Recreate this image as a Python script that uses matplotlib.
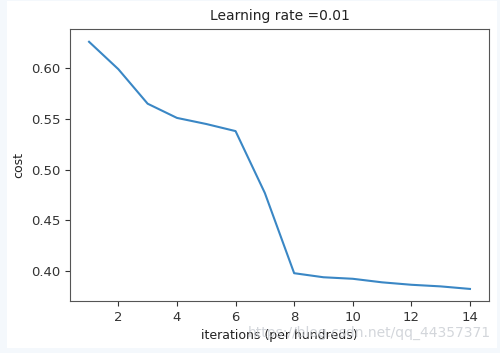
import matplotlib.pyplot as plt
from matplotlib.patches import Rectangle

iterations = [1, 2, 3, 4, 5, 6, 7, 8, 9, 10, 11, 12, 13, 14]
costs = [0.626, 0.599, 0.565, 0.551, 0.545, 0.538, 0.477, 0.398, 0.394,
         0.3925, 0.389, 0.3866, 0.385, 0.3825]
learning_rate = 0.01

fig = plt.figure(figsize=(5, 3.53), dpi=100, facecolor="#f4f8fc")
# white page area inside the light blue border
fig.patches.append(Rectangle((7 / 500, 5 / 353), 490 / 500, 347 / 353,
                             transform=fig.transFigure, facecolor="white",
                             edgecolor="none", zorder=-10))

ax = fig.add_axes([0.14, 0.147, 0.838, 0.772])
ax.plot(iterations, costs, color="#3a87c5", linewidth=1.5)

ax.set_yticks([0.40, 0.45, 0.50, 0.55, 0.60])
ax.set_xticks([2, 4, 6, 8, 10, 12, 14])
ax.set_ylim(0.3705, 0.639)
ax.set_xlim(0.35, 14.65)
ax.tick_params(labelsize=9.5, colors="#333333", length=3.5)
for s in ax.spines.values():
    s.set_color("#555555")

ax.set_ylabel("cost", fontsize=9, color="#222222")
ax.set_xlabel("iterations (per hundreds)", fontsize=9, color="#222222")
ax.set_title("Learning rate =" + str(learning_rate), fontsize=10, color="#222222")

fig.text(0.982, 0.058, "https://blog.csdn.net/qq_44357371", ha="right", va="center",
         fontsize=10, color="#c8ccd2", alpha=0.8)

fig.savefig("out.png", dpi=100, facecolor=fig.get_facecolor())
